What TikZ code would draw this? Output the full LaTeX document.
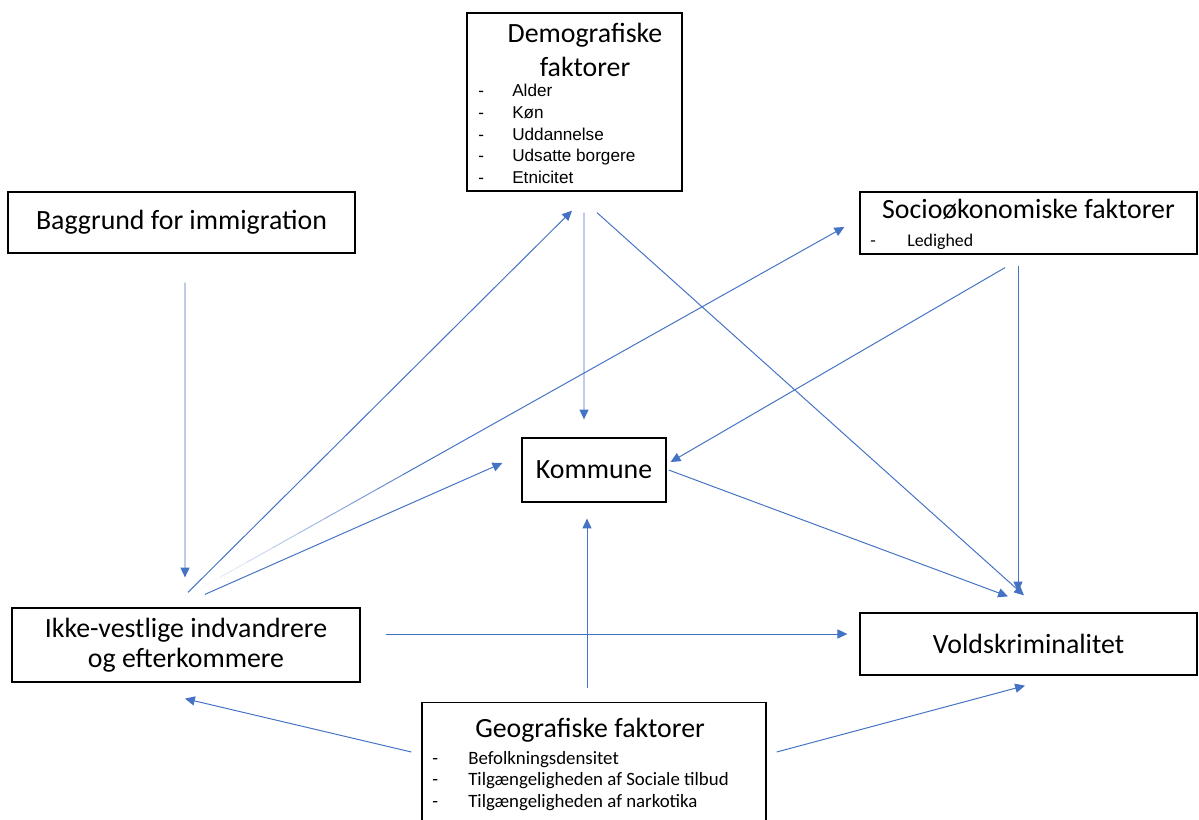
\documentclass[tikz,border=0pt]{standalone}
\usepackage{fontspec}
\setmainfont{Carlito}
\newfontfamily\arialfont{Liberation Sans}
\usetikzlibrary{arrows.meta,calc}

\definecolor{arrowblue}{HTML}{4472C4}

\begin{document}
\begin{tikzpicture}
[
	               x = 0.025cm,
	               y = -0.025cm,
	       box/.style = { draw=black, line width=0.9pt, rectangle, inner sep=0pt },
	      flow/.style = { draw=arrowblue, line width=0.7pt, -{Triangle[length=7pt,width=6.5pt]} },
	   heading/.style = { font=\fontsize{19.8}{23.5}\selectfont },
	  itemlist/.style = { inner sep=0pt }
]
	\useasboundingbox (0,0) rectangle (1199,820);

	% boxes
	\node (demo)  at (574.5,102)  [box, minimum width=5.375cm, minimum height=4.45cm] {};
	\node (bag)   at (181.5,222.5) [box, heading, minimum width=8.675cm, minimum height=1.525cm] {Baggrund for immigration};
	\node (socio) at (1028.5,223) [box, minimum width=8.425cm, minimum height=1.55cm] {};
	\node (kom)   at (594,470)    [box, heading, minimum width=3.6cm, minimum height=1.6cm] {Kommune};
	\node (ikke)  at (186,645)    [box, font=\fontsize{19.8}{21.3}\selectfont, align=center,
	                               minimum width=8.7cm, minimum height=1.85cm] {Ikke-vestlige indvandrere\\og efterkommere};
	\node (vold)  at (1028.5,644) [box, heading, minimum width=8.425cm, minimum height=1.55cm] {Voldskriminalitet};
	\node (geo)   at (594,702)    [box, anchor=north, minimum width=8.6cm, minimum height=3.75cm] {};

	% texts in the boxes
	\node (demotitle) at (585,43) [heading, anchor=base, inner sep=0pt]
		{\begin{tabular}[t]{@{}c@{}}Demografiske\\faktorer\end{tabular}};
	\node (demolist) at (478,97) [itemlist, anchor=base west, font=\arialfont\fontsize{12.2}{15.4}\selectfont]
		{\begin{tabular}[t]{@{}l@{}}
			\makebox[0.85cm][l]{-}Alder\\
			\makebox[0.85cm][l]{-}Køn\\
			\makebox[0.85cm][l]{-}Uddannelse\\
			\makebox[0.85cm][l]{-}Udsatte borgere\\
			\makebox[0.85cm][l]{-}Etnicitet
		\end{tabular}};
	\node (sociotitle) at (1028.5,219) [heading, anchor=base, inner sep=0pt] {Socioøkonomiske faktorer};
	\node (sociolist) at (870,247) [itemlist, anchor=base west, font=\fontsize{12.7}{15}\selectfont]
		{\makebox[0.925cm][l]{-}Ledighed};
	\node (geotitle) at (590,737) [heading, anchor=base, inner sep=0pt] {Geografiske faktorer};
	\node (geolist) at (432,764) [itemlist, anchor=base west, font=\fontsize{13.4}{15.3}\selectfont]
		{\begin{tabular}[t]{@{}l@{}}
			\makebox[0.9cm][l]{-}Befolkningsdensitet\\
			\makebox[0.9cm][l]{-}Tilgængeligheden af Sociale tilbud\\
			\makebox[0.9cm][l]{-}Tilgængeligheden af narkotika
		\end{tabular}};

	% arrows
	\draw [flow] ($(bag.south)+(3.5,29)$) -- ($(ikke.north)+(-1,-30)$);
	\draw [flow] ($(ikke.north)+(2,-15)$) -- ($(demo.south)+(-2.5,19)$);
	\draw [flow] ($(ikke.north)+(19,-13)$) -- ($(kom.west)+(-19,-7)$);
	\draw [flow] ($(ikke.east)+(25,-11)$) -- ($(vold.west)+(-12,-10)$);
	\draw [flow] ($(demo.south)+(9.5,21)$) -- ($(kom.north)+(-10,-18)$);
	\draw [flow] ($(demo.south)+(22.5,21)$) -- ($(vold.north)+(-4.5,-17)$);
	\draw [flow] ($(socio.south)+(-23.5,13)$) -- ($(kom.east)+(4,-8)$);
	\draw [flow] ($(socio.south)+(-10.5,11)$) -- ($(vold.north)+(-10.5,-21)$);
	\draw [flow] ($(kom.east)+(2,0)$) -- ($(vold.north)+(-20.5,-16)$);
	\draw [flow] ($(geo.north)+(-7,-14)$) -- ($(kom.south)+(-7,16)$);
	\draw [flow] ($(geo.north west)+(-10,50)$) -- ($(ikke.south)+(-1,16)$);
	\draw [flow] ($(geo.north east)+(10,50)$) -- ($(vold.south)+(-3.5,10)$);

	% the arrow to socio fades out near its start
	\coordinate (s3) at ($(ikke.north)+(9,-16)$);
	\coordinate (e3) at ($(socio.west)+(-15,4)$);
	\foreach \i [evaluate=\i as \op using 0.05+0.11*\i] in {0,...,7}
		\draw [arrowblue, line width=0.7pt, opacity=\op] ($(s3)!\i*0.04!(e3)$) -- ($(s3)!\i*0.04+0.04!(e3)$);
	\draw [flow] ($(s3)!0.32!(e3)$) -- (e3);
\end{tikzpicture}
\end{document}
